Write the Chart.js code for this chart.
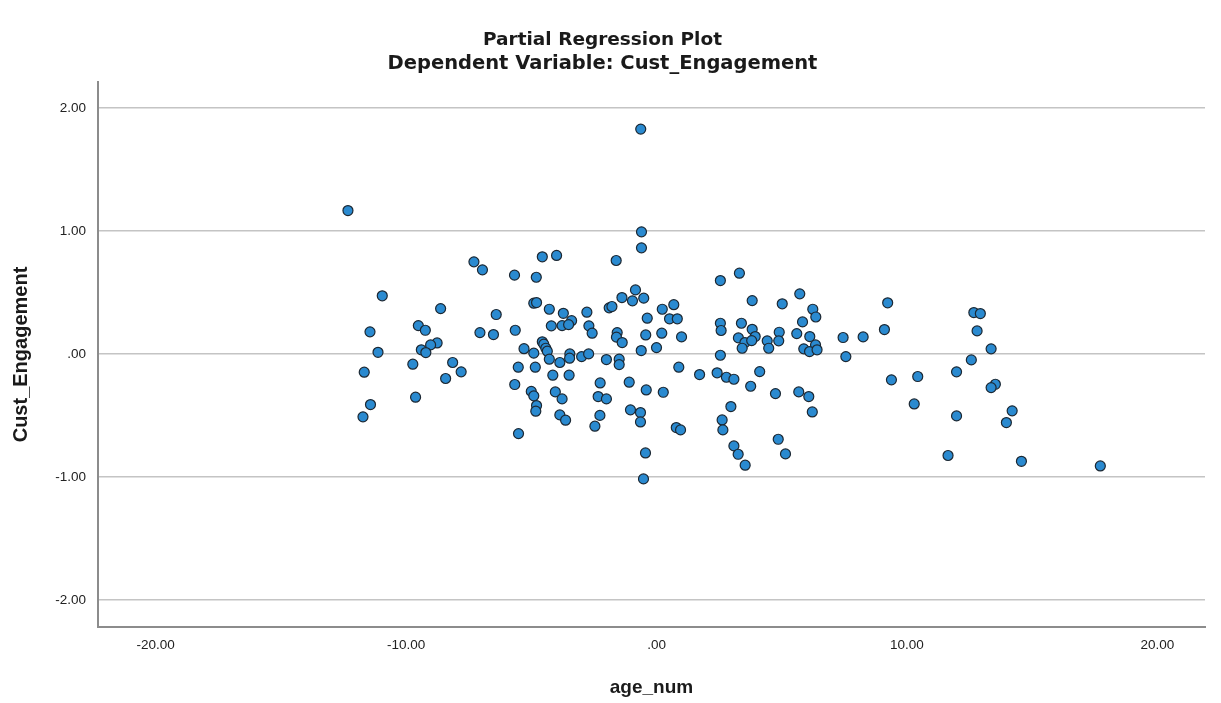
<!DOCTYPE html>
<html>
<head>
<meta charset="utf-8">
<title>Partial Regression Plot</title>
<script src="https://cdn.jsdelivr.net/npm/chart.js@4.4.0/dist/chart.umd.min.js"></script>
<style>
  html, body { margin: 0; padding: 0; background: #fff; }
  #wrap { width: 1221px; height: 703px; }
</style>
</head>
<body>
<div id="wrap"><canvas id="plot" width="1221" height="703"></canvas></div>
<script>
// valeurs (age_num, Cust_Engagement)
const ageNum = [
  -12.32, -7.29, -6.95, -5.67,
  -0.63, -0.60, -0.60, -4.56, -3.99, -1.61, -4.80, -0.84, 2.55, 3.31,
  -10.95, -8.62, -9.51, -9.23, -11.44, -6.40, -7.05, -6.51, -5.64, -8.76,
  -9.02, -9.39, -9.21, -11.12, -5.29, -9.73, -8.14, -7.80, -11.67, -8.42,
  -5.52, -5.66, -5.00, -9.62, -11.42, -11.72, -5.51,
  -1.38, -0.96, -0.51, -4.90, -4.79, -4.28, -3.72, -2.78, -1.89, -1.78,
  0.23, 0.69, -0.37, 0.52, 0.83, -3.39, -4.20, -3.77, -3.51, -2.70,
  -2.57, -1.57, -1.60, -1.37, -0.43, 0.21, 1.00, -4.56, -4.50, -4.42,
  -4.36, -4.90, -0.61, 0.00, -3.46, -3.47, -2.99, -2.71, -4.28, -3.86,
  -2.00, -1.49, -1.49, -4.84, 0.89, 1.72, -4.14, -3.49, -2.25, -1.09,
  -4.04, -4.90, -0.41, 0.27, -2.33, -2.00, -3.77, -4.79, -4.82, -1.04,
  -0.64, -0.64, -3.86, -3.63, -2.26, -2.46, 0.79, 0.96, -0.44, -0.52,
  5.72, 3.82, 5.02, 9.23, 6.24, 6.36, 5.83, 2.55, 2.58, 3.39,
  3.82, 3.94, 3.27, 3.53, 3.80, 3.42, 4.42, 4.48, 4.90, 4.88,
  5.60, 6.12, 6.35, 5.88, 6.11, 6.41, 7.45, 8.25, 9.10, 7.56,
  2.55, 2.42, 2.79, 3.09, 4.12, 3.76, 4.75, 5.68, 6.08, 6.22,
  9.38, 2.97, 2.62, 2.65, 3.09, 3.26, 3.54, 4.86, 5.15,
  12.67, 12.93, 12.80, 13.36, 12.57, 11.98, 10.43, 13.53, 13.36, 10.29,
  11.98, 14.20, 13.97, 11.64, 14.57, 17.72
];
const custEngagement = [
  1.165, 0.748, 0.683, 0.640,
  1.827, 0.992, 0.862, 0.789, 0.800, 0.759, 0.623, 0.520, 0.596, 0.656,
  0.472, 0.368, 0.230, 0.192, 0.179, 0.320, 0.173, 0.157, 0.192, 0.089,
  0.073, 0.033, 0.011, 0.013, 0.042, -0.084, -0.070, -0.146, -0.149, -0.200,
  -0.108, -0.249, -0.305, -0.352, -0.412, -0.512, -0.648,
  0.458, 0.431, 0.453, 0.412, 0.417, 0.363, 0.330, 0.339, 0.374, 0.385,
  0.363, 0.400, 0.290, 0.285, 0.285, 0.270, 0.228, 0.230, 0.238, 0.228,
  0.168, 0.173, 0.136, 0.092, 0.154, 0.168, 0.138, 0.098, 0.079, 0.046,
  0.022, 0.006, 0.027, 0.051, 0.000, -0.035, -0.022, 0.000, -0.043, -0.070,
  -0.046, -0.043, -0.087, -0.108, -0.108, -0.168, -0.173, -0.173, -0.236, -0.230,
  -0.309, -0.341, -0.293, -0.312, -0.347, -0.366, -0.366, -0.420, -0.466, -0.455,
  -0.477, -0.553, -0.496, -0.539, -0.500, -0.588, -0.599, -0.618, -0.805, -1.016,
  0.488, 0.433, 0.407, 0.415, 0.363, 0.300, 0.260, 0.249, 0.190, 0.249,
  0.200, 0.141, 0.130, 0.092, 0.108, 0.046, 0.106, 0.046, 0.176, 0.106,
  0.165, 0.141, 0.073, 0.041, 0.019, 0.033, 0.133, 0.138, 0.198, -0.022,
  -0.011, -0.154, -0.190, -0.206, -0.144, -0.263, -0.323, -0.309, -0.347, -0.472,
  -0.211, -0.428, -0.537, -0.618, -0.748, -0.816, -0.905, -0.694, -0.813,
  0.336, 0.328, 0.187, 0.041, -0.049, -0.146, -0.184, -0.247, -0.274, -0.407,
  -0.504, -0.463, -0.558, -0.826, -0.873, -0.911
];

// graduations des axes
const xTicks = [-20, -10, 0, 10, 20];
const yTicks = [-2, -1, 0, 1, 2];

const points = ageNum.map((x, i) => ({x: x, y: custEngagement[i]}));

// format SPSS : ".00", "-10.00"
function fmt(v) {
  if (v === 0) return '.00';
  return v.toFixed(2);
}

const FONT = '"Liberation Sans", Arial, sans-serif';
const FONT_TITRE = '"DejaVu Sans", "Liberation Sans", sans-serif';

const ctx = document.getElementById('plot').getContext('2d');

new Chart(ctx, {
  type: 'scatter',
  data: {
    datasets: [{
      label: 'Cust_Engagement',
      data: points,
      backgroundColor: '#2a8ad0',
      borderColor: '#1c2833',
      borderWidth: 1.2,
      pointRadius: 5,
      pointHoverRadius: 5
    }]
  },
  options: {
    responsive: false,
    animation: false,
    layout: {
      padding: {left: 0, right: 16, top: 0, bottom: 0}
    },
    plugins: {
      legend: { display: false },
      tooltip: { enabled: false },
      title: {
        display: true,
        text: 'Partial Regression Plot',
        color: '#1a1a1a',
        font: { family: FONT_TITRE, size: 18.5, weight: 'bold', lineHeight: 1.0 },
        padding: { top: 31, bottom: 0 }
      },
      subtitle: {
        display: true,
        text: 'Dependent Variable: Cust_Engagement',
        color: '#1a1a1a',
        font: { family: FONT_TITRE, size: 19.5, weight: 'bold', lineHeight: 1.0 },
        padding: { top: 5, bottom: 8 }
      }
    },
    scales: {
      x: {
        type: 'linear',
        min: -22.3,
        max: 21.9,
        afterBuildTicks: scale => {
          scale.ticks = xTicks.map(v => ({value: v}));
        },
        afterFit: scale => {
          scale.height = 76;
        },
        grid: { display: false, drawTicks: false },
        border: { display: true, color: '#8c8c8c', width: 2 },
        ticks: {
          padding: 10,
          color: '#222',
          font: { family: FONT, size: 13.5 },
          maxRotation: 0,
          callback: v => fmt(v)
        },
        title: {
          display: true,
          text: 'age_num',
          color: '#1a1a1a',
          font: { family: FONT, size: 19, weight: 'bold' },
          padding: { top: 0, bottom: 4 }
        }
      },
      y: {
        type: 'linear',
        min: -2.22,
        max: 2.21,
        afterBuildTicks: scale => {
          scale.ticks = yTicks.map(v => ({value: v}));
        },
        afterFit: scale => {
          scale.width = 98;
        },
        grid: { color: '#c4c4c4', lineWidth: 1.5, drawTicks: false },
        border: { display: true, color: '#8c8c8c', width: 2 },
        ticks: {
          padding: 12,
          color: '#222',
          font: { family: FONT, size: 13.5 },
          callback: v => fmt(v)
        },
        title: {
          display: true,
          text: 'Cust_Engagement',
          color: '#1a1a1a',
          font: { family: FONT, size: 20, weight: 'bold' },
          padding: { top: 9, bottom: 0 }
        }
      }
    }
  }
});
</script>
</body>
</html>
